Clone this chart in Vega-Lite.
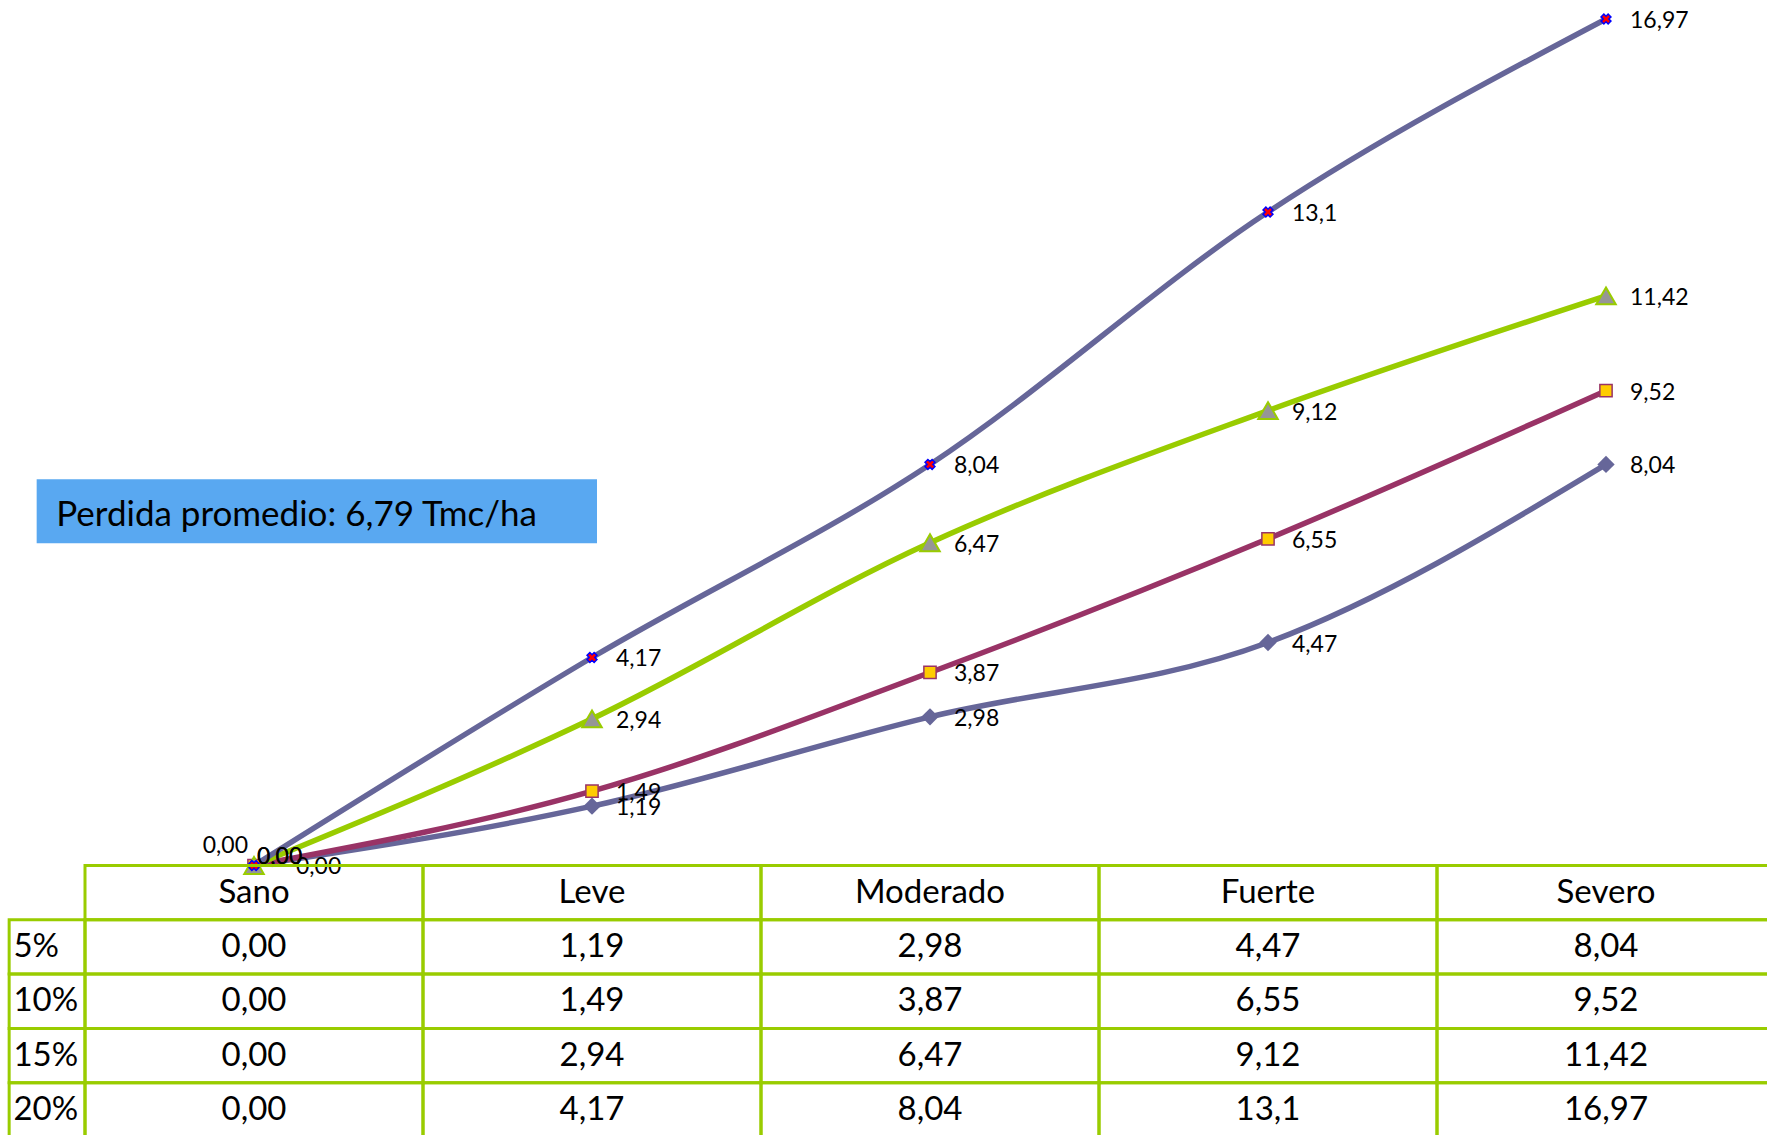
{
  "$schema": "https://vega.github.io/schema/vega-lite/v6.json",
  "width": 1767,
  "height": 1135,
  "autosize": {"type": "none"},
  "padding": 0,
  "background": "white",
  "config": {
    "view": {"stroke": null},
    "text": {"font": "Lato", "color": "black"},
    "locale": {"number": {"decimal": ",", "thousands": ".", "grouping": [3], "currency": ["", " €"]}}
  },
  "datasets": {
    "datos": [
      {"cat": "Sano", "serie": "5%", "valor": 0},
      {"cat": "Leve", "serie": "5%", "valor": 1.19},
      {"cat": "Moderado", "serie": "5%", "valor": 2.98},
      {"cat": "Fuerte", "serie": "5%", "valor": 4.47},
      {"cat": "Severo", "serie": "5%", "valor": 8.04},
      {"cat": "Sano", "serie": "10%", "valor": 0},
      {"cat": "Leve", "serie": "10%", "valor": 1.49},
      {"cat": "Moderado", "serie": "10%", "valor": 3.87},
      {"cat": "Fuerte", "serie": "10%", "valor": 6.55},
      {"cat": "Severo", "serie": "10%", "valor": 9.52},
      {"cat": "Sano", "serie": "15%", "valor": 0},
      {"cat": "Leve", "serie": "15%", "valor": 2.94},
      {"cat": "Moderado", "serie": "15%", "valor": 6.47},
      {"cat": "Fuerte", "serie": "15%", "valor": 9.12},
      {"cat": "Severo", "serie": "15%", "valor": 11.42},
      {"cat": "Sano", "serie": "20%", "valor": 0},
      {"cat": "Leve", "serie": "20%", "valor": 4.17},
      {"cat": "Moderado", "serie": "20%", "valor": 8.04},
      {"cat": "Fuerte", "serie": "20%", "valor": 13.1},
      {"cat": "Severo", "serie": "20%", "valor": 16.97}
    ]
  },
  "data": {"name": "datos"},
  "layer": [
    {
      "encoding": {
        "x": {"field": "cat", "type": "nominal", "bandPosition": 0.5,
              "scale": {"type": "band", "domain": ["Sano", "Leve", "Moderado", "Fuerte", "Severo"], "range": [85, 1775], "paddingInner": 0, "paddingOuter": 0},
              "axis": null},
        "y": {"field": "valor", "type": "quantitative",
              "scale": {"domain": [0, 16.97], "range": [865.5, 19], "nice": false, "zero": false},
              "axis": null}
      },
      "layer": [
        {
          "transform": [{"filter": "datum.cat === 'Sano' && datum.serie === '5%'"}],
          "mark": {"type": "rect", "fill": "#59A8F1"},
          "encoding": {
            "x": {"datum": "Sano", "bandPosition": -0.143},
            "x2": {"datum": "Leve", "bandPosition": 0.5148},
            "y": {"datum": 7.743, "type": "quantitative"},
            "y2": {"datum": 6.46}
          }
        },
        {
          "transform": [{"filter": "datum.cat === 'Sano' && datum.serie === '5%'"}],
          "mark": {"type": "text", "align": "left", "baseline": "middle", "fontSize": 35, "text": "Perdida promedio: 6,79 Tmc/ha"},
          "encoding": {
            "x": {"datum": "Sano", "bandPosition": -0.085},
            "y": {"datum": 7.03, "type": "quantitative"}
          }
        },
        {
          "mark": {"type": "line", "interpolate": "monotone", "strokeWidth": 5.5},
          "encoding": {
            "color": {"field": "serie", "type": "nominal",
                      "scale": {"domain": ["5%", "10%", "15%", "20%"], "range": ["#666699", "#993366", "#99CC00", "#666699"]},
                      "legend": null}
          }
        },
        {
          "transform": [{"filter": "datum.serie === '5%'"}],
          "mark": {"type": "point", "shape": "diamond", "filled": true, "fill": "#666699", "stroke": null, "size": 300, "opacity": 1}
        },
        {
          "transform": [{"filter": "datum.serie === '10%'"}],
          "mark": {"type": "point", "shape": "square", "filled": true, "fill": "#FFCC00", "stroke": "#993366", "strokeWidth": 1.5, "size": 150, "opacity": 1}
        },
        {
          "transform": [{"filter": "datum.serie === '15%'"}],
          "mark": {"type": "point", "shape": "triangle-up", "filled": true, "fill": "#969696", "stroke": "#99CC00", "strokeWidth": 2, "size": 380, "opacity": 1}
        },
        {
          "transform": [{"filter": "datum.serie === '20%'"}],
          "mark": {"type": "point", "shape": "cross", "angle": 45, "filled": true, "fill": "#FF0000", "stroke": "#0000FF", "strokeWidth": 1.5, "size": 100, "opacity": 1}
        },
        {
          "transform": [{"filter": "datum.cat !== 'Sano'"}],
          "mark": {"type": "text", "align": "left", "baseline": "middle", "fontSize": 23, "dx": 24, "dy": 2},
          "encoding": {
            "text": {"field": "valor", "type": "quantitative", "format": ".4~g"}
          }
        },
        {
          "transform": [{"filter": "datum.cat === 'Sano' && datum.serie === '5%'"}],
          "mark": {"type": "text", "align": "right", "baseline": "middle", "fontSize": 23, "dx": -6, "dy": -20},
          "encoding": {"text": {"field": "valor", "type": "quantitative", "format": ".2f"}}
        },
        {
          "transform": [{"filter": "datum.cat === 'Sano' && (datum.serie === '10%' || datum.serie === '20%')"}],
          "mark": {"type": "text", "align": "left", "baseline": "middle", "fontSize": 23, "dx": 3, "dy": -9},
          "encoding": {"text": {"field": "valor", "type": "quantitative", "format": ".2f"}}
        },
        {
          "transform": [{"filter": "datum.cat === 'Sano' && datum.serie === '15%'"}],
          "mark": {"type": "text", "align": "left", "baseline": "middle", "fontSize": 23, "dx": 42, "dy": 1},
          "encoding": {"text": {"field": "valor", "type": "quantitative", "format": ".2f"}}
        }
      ]
    },
    {
      "encoding": {
        "x": {"field": "cat", "type": "nominal",
              "scale": {"type": "band", "domain": ["Sano", "Leve", "Moderado", "Fuerte", "Severo"], "range": [85, 1775], "paddingInner": 0, "paddingOuter": 0},
              "axis": null},
        "y": {"field": "serie", "type": "nominal",
              "scale": {"type": "band", "domain": ["encabezado", "5%", "10%", "15%", "20%"], "range": [865.5, 1137], "paddingInner": 0, "paddingOuter": 0},
              "axis": null}
      },
      "layer": [
        {
          "mark": {"type": "rect", "fill": "transparent", "stroke": "#99CC00", "strokeWidth": 3}
        },
        {
          "transform": [{"filter": "datum.serie === '5%'"}],
          "mark": {"type": "rect", "fill": "transparent", "stroke": "#99CC00", "strokeWidth": 3},
          "encoding": {"y": {"datum": "encabezado"}}
        },
        {
          "transform": [{"filter": "datum.cat === 'Sano'"}],
          "mark": {"type": "rect", "fill": "transparent", "stroke": "#99CC00", "strokeWidth": 3},
          "encoding": {
            "x": {"datum": "Sano", "bandPosition": -0.2244},
            "x2": {"datum": "Sano", "bandPosition": 0}
          }
        },
        {
          "transform": [{"filter": "datum.serie === '5%'"}],
          "mark": {"type": "text", "align": "center", "baseline": "middle", "fontSize": 33},
          "encoding": {
            "x": {"field": "cat", "type": "nominal", "bandPosition": 0.5},
            "y": {"datum": "encabezado", "bandPosition": 0.5},
            "text": {"field": "cat"}
          }
        },
        {
          "mark": {"type": "text", "align": "center", "baseline": "middle", "fontSize": 33},
          "encoding": {
            "x": {"field": "cat", "type": "nominal", "bandPosition": 0.5},
            "y": {"field": "serie", "type": "nominal", "bandPosition": 0.5},
            "text": {"field": "valor", "type": "quantitative", "format": ".4~g",
                     "condition": {"test": "datum.valor === 0", "value": "0,00"}}
          }
        },
        {
          "transform": [{"filter": "datum.cat === 'Sano'"}],
          "mark": {"type": "text", "align": "left", "baseline": "middle", "fontSize": 33},
          "encoding": {
            "x": {"datum": "Sano", "bandPosition": -0.2117},
            "y": {"field": "serie", "type": "nominal", "bandPosition": 0.5},
            "text": {"field": "serie"}
          }
        }
      ]
    }
  ],
  "resolve": {"scale": {"y": "independent"}}
}
